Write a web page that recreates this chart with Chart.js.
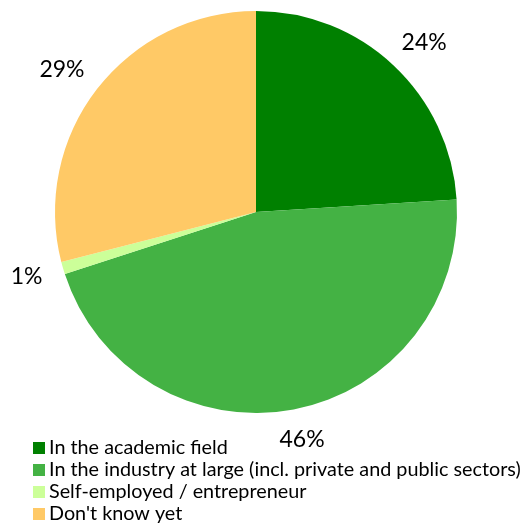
<!DOCTYPE html>
<html>
<head>
<meta charset="utf-8">
<script src="https://cdn.jsdelivr.net/npm/chart.js@4/dist/chart.umd.min.js"></script>
<style>
  html, body { margin: 0; padding: 0; background: #fff; }
  #wrap { width: 527px; height: 529px; position: relative; }
</style>
</head>
<body>
<div id="wrap"><canvas id="c" width="527" height="529"></canvas></div>
<script>
const categories = [
  "In the academic field",
  "In the industry at large (incl. private and public sectors)",
  "Self-employed / entrepreneur",
  "Don't know yet"
];
const shares = [24, 46, 1, 29];
const sliceColors = ["#008000", "#44B244", "#CCFF99", "#FFC966"];

const FONT = "Lato, 'Liberation Sans', sans-serif";

// Percentage labels placed just outside each slice
const outsideLabels = {
  id: "outsideLabels",
  afterDatasetsDraw(chart) {
    const ctx = chart.ctx;
    const meta = chart.getDatasetMeta(0);
    ctx.save();
    ctx.font = "23px " + FONT;
    ctx.fillStyle = "#000";
    ctx.textAlign = "center";
    ctx.textBaseline = "middle";
    meta.data.forEach((arc, i) => {
      const mid = (arc.startAngle + arc.endAngle) / 2;
      const r = arc.outerRadius + 18;
      const text = shares[i] + "%";
      const w = ctx.measureText(text).width;
      const h = 22;
      const cx = arc.x + Math.cos(mid) * r + Math.cos(mid) * (w / 2 + 4);
      const cy = arc.y + Math.sin(mid) * r + Math.sin(mid) * (h / 2 + 2);
      ctx.fillText(text, cx, cy);
    });
    ctx.restore();
  }
};

// Vertical legend, one entry per row, in the bottom-left corner
const stackedLegend = {
  id: "stackedLegend",
  afterDraw(chart) {
    const ctx = chart.ctx;
    ctx.save();
    ctx.font = "19.8px " + FONT;
    ctx.textBaseline = "middle";
    ctx.textAlign = "left";
    const x0 = 33, y0 = 448, step = 22, box = 12;
    categories.forEach((name, i) => {
      const y = y0 + i * step;
      ctx.fillStyle = sliceColors[i];
      ctx.fillRect(x0, y - box / 2, box, box);
      ctx.fillStyle = "#000";
      ctx.fillText(name, x0 + box + 4, y);
    });
    ctx.restore();
  }
};

new Chart(document.getElementById("c"), {
  type: "pie",
  data: {
    labels: categories,
    datasets: [{
      data: shares,
      backgroundColor: sliceColors,
      borderWidth: 0
    }]
  },
  options: {
    responsive: false,
    animation: false,
    layout: { padding: { left: 55, right: 70, top: 11, bottom: 116 } },
    plugins: {
      legend: { display: false },
      tooltip: { enabled: false }
    }
  },
  plugins: [outsideLabels, stackedLegend]
});
</script>
</body>
</html>
